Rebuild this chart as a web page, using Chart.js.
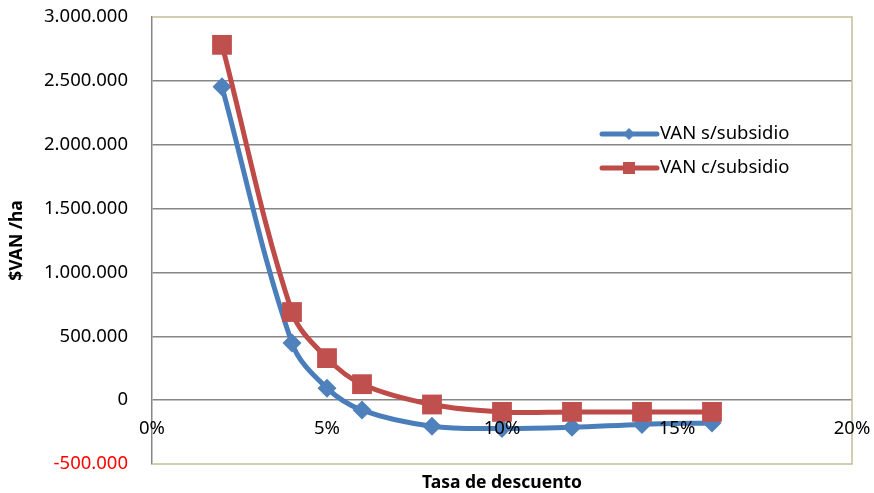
<!DOCTYPE html>
<html>
<head>
<meta charset="utf-8">
<script src="https://cdn.jsdelivr.net/npm/chart.js@4.4.0/dist/chart.umd.min.js"></script>
<style>
html, body { margin: 0; padding: 0; background: #fff; }
</style>
</head>
<body>
<canvas id="chart" width="874" height="493"></canvas>
<script>
// tasas de descuento (%) y VAN por hectárea
const rates = [2, 4, 5, 6, 8, 10, 12, 14, 16];
const vanSinSubsidio = [2453000, 447000, 94000, -78000, -204000, -222000, -212000, -190000, -178000];
const vanConSubsidio = [2782000, 690000, 329000, 125000, -34000, -92000, -92000, -92000, -92000];
const seriesNames = ["VAN s/subsidio", "VAN c/subsidio"];
const xTitle = "Tasa de descuento";
const yTitle = "$VAN /ha";

const FONT = "'Noto Sans', 'Open Sans', sans-serif";
const BLUE = "#4A7EBB";
const RED = "#BE4B48";

function fmt(v) {
	if (v === 0) return "0";
	let s = String(Math.abs(v)).replace(/\B(?=(\d{3})+(?!\d))/g, ".");
	return (v < 0 ? "-" : "") + s;
}

function toPoints(vals) {
	return rates.map((r, i) => ({x: r, y: vals[i]}));
}

// marco caqui del área de trazado (arriba, derecha, abajo)
const framePlugin = {
	id: "frame",
	beforeDatasetsDraw(chart) {
		let {ctx, chartArea: a} = chart;
		ctx.save();
		ctx.strokeStyle = "#C4BC96";
		ctx.lineWidth = 1.5;
		ctx.beginPath();
		ctx.moveTo(a.left, a.top);
		ctx.lineTo(a.right, a.top);
		ctx.lineTo(a.right, a.bottom);
		ctx.lineTo(a.left, a.bottom);
		ctx.stroke();
		ctx.restore();
	}
};

// leyenda dentro del gráfico, a la derecha
const legendPlugin = {
	id: "insideLegend",
	afterDatasetsDraw(chart) {
		let {ctx, chartArea: a} = chart;
		let x0 = a.left + 450, y0 = a.top + 117;
		chart.data.datasets.forEach((ds, i) => {
			let y = y0 + i * 34;
			ctx.save();
			ctx.strokeStyle = ds.borderColor;
			ctx.lineWidth = 5;
			ctx.lineCap = "round";
			ctx.beginPath();
			ctx.moveTo(x0, y);
			ctx.lineTo(x0 + 55, y);
			ctx.stroke();
			ctx.fillStyle = ds.pointBackgroundColor;
			Chart.helpers.drawPoint(ctx, {
				pointStyle: ds.pointStyle,
				radius: ds.pointStyle === "rect" ? 8.5 : 6,
				rotation: 0,
				borderWidth: 0
			}, x0 + 27, y);
			ctx.fillStyle = "#000";
			ctx.font = "18.5px " + FONT;
			ctx.textBaseline = "middle";
			ctx.textAlign = "left";
			ctx.fillText(ds.label, x0 + 58, y);
			ctx.restore();
		});
	}
};

new Chart(document.getElementById("chart"), {
	type: "line",
	data: {
		datasets: [{
			label: seriesNames[0],
			data: toPoints(vanSinSubsidio),
			borderColor: BLUE,
			backgroundColor: BLUE,
			pointBackgroundColor: "#4F81BD",
			pointBorderColor: "#4F81BD",
			borderWidth: 5,
			pointStyle: "rectRot",
			pointRadius: 9.5,
			pointBorderWidth: 0,
			tension: 0.35,
			order: 2
		}, {
			label: seriesNames[1],
			data: toPoints(vanConSubsidio),
			borderColor: RED,
			backgroundColor: RED,
			pointBackgroundColor: "#C0504D",
			pointBorderColor: "#C0504D",
			borderWidth: 5,
			pointStyle: "rect",
			pointRadius: 14,
			pointBorderWidth: 0,
			tension: 0.35,
			order: 1
		}]
	},
	options: {
		responsive: false,
		animation: false,
		layout: {
			autoPadding: false,
			padding: {top: 17, right: 22, left: 0, bottom: 0}
		},
		plugins: {
			legend: {display: false},
			tooltip: {enabled: false},
			title: {
				display: true,
				text: xTitle,
				position: "bottom",
				fullSize: false,
				color: "#000",
				font: {family: FONT, size: 17.5, weight: "bold"},
				padding: {top: 9, bottom: -1}
			}
		},
		scales: {
			x: {
				type: "linear",
				position: {y: 0},
				min: 0,
				max: 20,
				ticks: {
					stepSize: 5,
					callback: v => v + "%",
					color: "#000",
					font: {family: FONT, size: 18.5},
					padding: 2,
					maxRotation: 0,
					z: 1
				},
				grid: {
					drawOnChartArea: false,
					drawTicks: true,
					tickLength: 15,
					tickColor: "rgba(0,0,0,0)",
					color: "rgba(0,0,0,0)"
				},
				border: {display: false}
			},
			y: {
				min: -500000,
				max: 3000000,
				ticks: {
					stepSize: 500000,
					callback: fmt,
					color: ctx => ctx.tick && ctx.tick.value < 0 ? "#FF0000" : "#000",
					font: {family: FONT, size: 18.5},
					padding: 2
				},
				grid: {
					color: ctx => (ctx.tick && (ctx.tick.value === 3000000 || ctx.tick.value === -500000)) ? "rgba(0,0,0,0)" : "#868686",
					lineWidth: 1.5,
					drawTicks: true,
					tickLength: 22,
					tickColor: "rgba(0,0,0,0)"
				},
				border: {color: "#868686", width: 1.5},
				title: {
					display: true,
					text: yTitle,
					color: "#000",
					font: {family: FONT, size: 17.5, weight: "bold"},
					padding: {top: 7, bottom: 0}
				},
				afterFit(scale) {
					scale.width = 152;
				}
			}
		}
	},
	plugins: [framePlugin, legendPlugin]
});
</script>
</body>
</html>
